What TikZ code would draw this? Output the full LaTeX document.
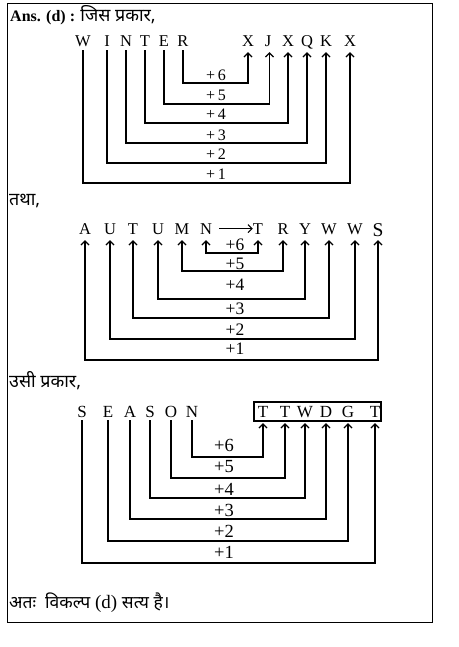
\documentclass[tikz,border=0pt]{standalone}
\usepackage{fontspec}
\setmainfont{Liberation Serif}
\newfontfamily\hindi[Script=Devanagari]{Noto Sans}
\usetikzlibrary{arrows.meta}
\begin{document}
\begin{tikzpicture}[x=1pt,y=-1pt,
  ltr/.style={font=\fontsize{16.5}{16.5}\selectfont, inner sep=0pt, anchor=base, text depth=0pt},
  ltrc/.style={font=\fontsize{17}{17}\selectfont, inner sep=0pt, anchor=base, text depth=0pt},
  lbl/.style={font=\fontsize{16}{16}\selectfont, inner sep=0pt},
  lblb/.style={font=\fontsize{17.5}{17.5}\selectfont, inner sep=0pt},
  lblc/.style={font=\fontsize{18.5}{18.5}\selectfont, inner sep=0pt},
  txt/.style={font=\fontsize{16}{16}\selectfont, inner sep=0pt, anchor=base west},
  barb/.tip={Straight Barb[length=4pt,width=8pt]},
  arr/.style={line width=1.2pt, -barb},
  dbl/.style={line width=1.2pt, barb-barb},
]
\newcommand{\hin}[1]{{\hindi\fontsize{17.9}{17.9}\selectfont #1}}
\newcommand{\hinf}[1]{{\hindi\fontsize{17.5}{17.5}\selectfont #1}}
\useasboundingbox (0,0) rectangle (458,647);
\draw[line width=1pt] (7,4) rectangle (432,622);

% ---------- headings ----------
\node[txt] (h1) at (10,22) {\textbf{Ans. (d) :} \hin{जिस प्रकार,}};
\node[txt] (h2) at (9,205) {\hin{तथा,}};
\node[txt] (h3) at (9,387) {\hin{उसी प्रकार,}};
\node[txt, font=\fontsize{19}{19}\selectfont] (h4) at (9,608) {\hinf{अतः\ \ विकल्प} (d) \hinf{सत्य है।}};

% ---------- WINTER ----------
\node[ltr] (aW) at (83,47) {W};
\node[ltr] (aI) at (107,47) {I};
\node[ltr] (aN) at (126,47) {N};
\node[ltr] (aT) at (145,47) {T};
\node[ltr] (aE) at (164,47) {E};
\node[ltr] (aR) at (183,47) {R};
\node[ltr] (bX1) at (248,47) {X};
\node[ltr] (bJ) at (268,47) {J};
\node[ltr] (bX2) at (288,47) {X};
\node[ltr] (bQ) at (307,47) {Q};
\node[ltr] (bK) at (326,47) {K};
\node[ltr] (bX3) at (350,47) {X};
\coordinate (r16) at (0,83);
\coordinate (r15) at (0,104);
\coordinate (r14) at (0,123);
\coordinate (r13) at (0,143);
\coordinate (r12) at (0,163);
\coordinate (r11) at (0,183);
\draw[arr] ([yshift=-3pt]aR.south) -- (aR.south |- r16) -| ([yshift=-5pt]bX1.south);
\draw[arr] ([yshift=-3pt]aE.south) -- (aE.south |- r15) -| ([yshift=-5pt,xshift=1.5pt]bJ.south);
\draw[arr] ([yshift=-3pt]aT.south) -- (aT.south |- r14) -| ([yshift=-5pt]bX2.south);
\draw[arr] ([yshift=-3pt]aN.south) -- (aN.south |- r13) -| ([yshift=-5pt]bQ.south);
\draw[arr] ([yshift=-3pt]aI.south) -- (aI.south |- r12) -| ([yshift=-5pt]bK.south);
\draw[arr] ([yshift=-3pt]aW.south) -- (aW.south |- r11) -| ([yshift=-5pt]bX3.south);
\node[lbl] (l16) at (216,75) {+\,6};
\node[lbl] (l15) at (216,95) {+\,5};
\node[lbl] (l14) at (216,114) {+\,4};
\node[lbl] (l13) at (216,135) {+\,3};
\node[lbl] (l12) at (216,154) {+\,2};
\node[lbl] (l11) at (216,174) {+\,1};

% ---------- AUTUMN ----------
\node[ltr] (cA) at (85,234) {A};
\node[ltr] (cU1) at (110,234) {U};
\node[ltr] (cT) at (133,234) {T};
\node[ltr] (cU2) at (158,234) {U};
\node[ltr] (cM) at (182,234) {M};
\node[ltr] (cN) at (206,234) {N};
\node[ltr] (dT) at (258,234) {T};
\node[ltr] (dR) at (283,234) {R};
\node[ltr] (dY) at (305,234) {Y};
\node[ltr] (dW1) at (329,234) {W};
\node[ltr] (dW2) at (355,234) {W};
\node[ltr, font=\fontsize{19.5}{19.5}\selectfont] (dS) at (378,236) {S};
\draw[arr, line width=1.1pt] ([xshift=7pt]cN.east) -- (dT.west);
\coordinate (r26) at (0,253);
\coordinate (r25) at (0,271);
\coordinate (r24) at (0,299);
\coordinate (r23) at (0,318);
\coordinate (r22) at (0,339);
\coordinate (r21) at (0,360);
\draw[dbl] ([yshift=-6pt]cN.south) -- (cN.south |- r26) -| ([yshift=-6pt]dT.south);
\draw[dbl] ([yshift=-6pt]cM.south) -- (cM.south |- r25) -| ([yshift=-6pt]dR.south);
\draw[dbl] ([yshift=-6pt]cU2.south) -- (cU2.south |- r24) -| ([yshift=-6pt]dY.south);
\draw[dbl] ([yshift=-6pt]cT.south) -- (cT.south |- r23) -| ([yshift=-6pt]dW1.south);
\draw[dbl] ([yshift=-6pt]cU1.south) -- (cU1.south |- r22) -| ([yshift=-6pt]dW2.south);
\draw[dbl] ([yshift=-6pt]cA.south) -- (cA.south |- r21) -| ([yshift=-4pt]dS.south);
\node[lblb] (l26) at (235,245) {+6};
\node[lblb] (l25) at (235,264) {+5};
\node[lblb] (l24) at (235,285) {+4};
\node[lblb] (l23) at (235,309) {+3};
\node[lblb] (l22) at (235,330) {+2};
\node[lblb] (l21) at (235,349) {+1};

% ---------- SEASON ----------
\node[ltrc] (eS1) at (82,417) {S};
\node[ltrc] (eE) at (108,417) {E};
\node[ltrc] (eA) at (130,417) {A};
\node[ltrc] (eS2) at (150,417) {S};
\node[ltrc] (eO) at (171,417) {O};
\node[ltrc] (eN) at (192,417) {N};
\node[draw, line width=1.6pt, minimum width=127pt, minimum height=19pt, inner sep=0pt] (box) at (317.5,411.5) {};
\node[ltrc] (fT1) at (263,417) {T};
\node[ltrc] (fT2) at (285,417) {T};
\node[ltrc] (fW) at (305,417) {W};
\node[ltrc] (fD) at (326,417) {D};
\node[ltrc] (fG) at (348,417) {G};
\node[ltrc] (fT3) at (375,417) {T};
\coordinate (r36) at (0,457);
\coordinate (r35) at (0,478);
\coordinate (r34) at (0,498);
\coordinate (r33) at (0,519);
\coordinate (r32) at (0,541);
\coordinate (r31) at (0,563);
\draw[arr] ([yshift=-3pt]eN.south) -- (eN.south |- r36) -| ([yshift=-6pt]fT1.south);
\draw[arr] ([yshift=-3pt]eO.south) -- (eO.south |- r35) -| ([yshift=-6pt]fT2.south);
\draw[arr] ([yshift=-3pt]eS2.south) -- (eS2.south |- r34) -| ([yshift=-6pt]fW.south);
\draw[arr] ([yshift=-3pt]eA.south) -- (eA.south |- r33) -| ([yshift=-6pt]fD.south);
\draw[arr] ([yshift=-3pt]eE.south) -- (eE.south |- r32) -| ([yshift=-6pt]fG.south);
\draw[arr] ([yshift=-3pt]eS1.south) -- (eS1.south |- r31) -| ([yshift=-6pt]fT3.south);
\node[lblc] (l36) at (224,445) {+6};
\node[lblc] (l35) at (224,467) {+5};
\node[lblc] (l34) at (224,489) {+4};
\node[lblc] (l33) at (224,510) {+3};
\node[lblc] (l32) at (224,531) {+2};
\node[lblc] (l31) at (224,552) {+1};
\end{tikzpicture}
\end{document}
